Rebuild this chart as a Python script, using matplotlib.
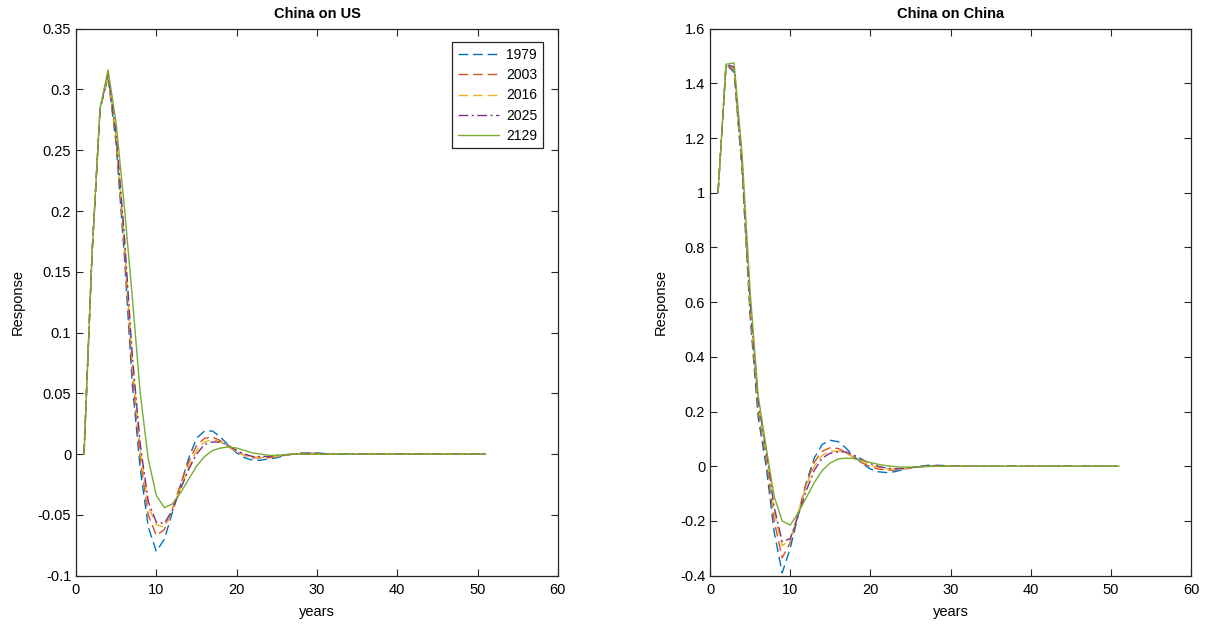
import matplotlib
matplotlib.use("Agg")
import matplotlib.pyplot as plt
import numpy as np

plt.rcParams["font.family"] = ["Liberation Sans", "DejaVu Sans"]

YEARS = np.arange(1, 52)
LABELS = ["1979", "2003", "2016", "2025", "2129"]
COLORS = ["#0072BD", "#D95319", "#EDB120", "#7E2F8E", "#77AC30"]
STYLES = [(0, (7, 3.5)), (0, (7, 3.5)), (0, (7, 3.5)), (0, (7, 2.5, 1.5, 2.5)), "-"]


def pad(vals):
    return np.array(vals + [0.0] * (51 - len(vals)))


# China on US
US_1979 = pad([0, 0.165, 0.284, 0.310, 0.255, 0.165, 0.058, -0.012, -0.060, -0.080,
               -0.070, -0.048, -0.026, -0.004, 0.013, 0.019, 0.019, 0.014, 0.007, 0.001,
               -0.003, -0.005, -0.005, -0.004, -0.003, -0.001, 0.0, 0.001, 0.001, 0.001,
               0.0005])
US_2003 = pad([0, 0.165, 0.284, 0.311, 0.258, 0.172, 0.068, -0.004, -0.050, -0.067,
               -0.062, -0.045, -0.025, -0.007, 0.007, 0.013, 0.014, 0.011, 0.006, 0.002,
               -0.001, -0.003, -0.003, -0.003, -0.002, -0.001, 0.0, 0.0005, 0.0008, 0.0006])
US_2016 = pad([0, 0.165, 0.284, 0.312, 0.261, 0.178, 0.076, 0.003, -0.043, -0.058,
               -0.060, -0.046, -0.028, -0.011, 0.003, 0.010, 0.012, 0.010, 0.006, 0.002,
               -0.001, -0.002, -0.003, -0.002, -0.002, -0.001, 0.0, 0.0005, 0.0005])
US_2025 = pad([0, 0.165, 0.284, 0.313, 0.263, 0.182, 0.082, 0.008, -0.039, -0.056,
               -0.057, -0.046, -0.029, -0.013, 0.000, 0.008, 0.010, 0.010, 0.007, 0.003,
               0.000, -0.002, -0.002, -0.002, -0.001, -0.0005])
US_2129 = pad([0, 0.165, 0.285, 0.316, 0.272, 0.205, 0.130, 0.050, -0.004, -0.034,
               -0.044, -0.041, -0.032, -0.021, -0.010, -0.002, 0.003, 0.005, 0.006, 0.005,
               0.003, 0.001, 0.0, -0.001, -0.001, -0.0005])

# China on China
CN_1979 = pad([1.0, 1.47, 1.44, 1.08, 0.55, 0.18, 0.00, -0.24, -0.39, -0.30,
               -0.18, -0.06, 0.03, 0.08, 0.095, 0.09, 0.065, 0.035, 0.010, -0.010,
               -0.020, -0.023, -0.020, -0.013, -0.006, 0.0, 0.003, 0.004, 0.003, 0.002,
               0.001])
CN_2003 = pad([1.0, 1.47, 1.45, 1.09, 0.57, 0.21, 0.03, -0.20, -0.335, -0.28,
               -0.17, -0.065, 0.015, 0.055, 0.068, 0.065, 0.050, 0.030, 0.012, -0.002,
               -0.010, -0.014, -0.014, -0.010, -0.006, -0.002, 0.001, 0.002, 0.002, 0.001])
CN_2016 = pad([1.0, 1.47, 1.455, 1.10, 0.59, 0.23, 0.05, -0.17, -0.29, -0.27,
               -0.17, -0.07, 0.0, 0.04, 0.055, 0.056, 0.047, 0.032, 0.017, 0.004,
               -0.005, -0.010, -0.011, -0.009, -0.006, -0.003, 0.0, 0.001, 0.001])
CN_2025 = pad([1.0, 1.47, 1.46, 1.11, 0.60, 0.24, 0.06, -0.15, -0.275, -0.265,
               -0.18, -0.09, -0.015, 0.03, 0.048, 0.053, 0.052, 0.040, 0.025, 0.010,
               0.0, -0.007, -0.009, -0.008, -0.005, -0.002, 0.0, 0.001])
CN_2129 = pad([1.0, 1.47, 1.475, 1.14, 0.64, 0.26, 0.07, -0.11, -0.20, -0.215,
               -0.17, -0.115, -0.06, -0.015, 0.012, 0.027, 0.030, 0.028, 0.022, 0.014,
               0.007, 0.002, -0.001, -0.003, -0.003, -0.002, -0.001])

US = [US_1979, US_2003, US_2016, US_2025, US_2129]
CN = [CN_1979, CN_2003, CN_2016, CN_2025, CN_2129]

fig = plt.figure(figsize=(12.1, 6.3), dpi=100)
fig.patch.set_facecolor("white")
ax1 = fig.add_axes([0.0628, 0.0862, 0.3983, 0.8683])
ax2 = fig.add_axes([0.5868, 0.0862, 0.3975, 0.8683])


def style(ax, title, ylim, yticks):
    ax.set_xlim(0, 60)
    ax.set_ylim(*ylim)
    ax.set_xticks(range(0, 61, 10))
    ax.set_yticks(yticks)
    ax.set_yticklabels([f"{t:g}" for t in yticks])
    ax.tick_params(direction="in", top=True, right=True, length=5, width=0.8,
                   labelsize=10.5, colors="#262626", labelcolor="black")
    ax.tick_params(axis="x", pad=5)
    for s in ax.spines.values():
        s.set_linewidth(0.9)
        s.set_color("#262626")
    ax.set_title(title, fontsize=10.5, fontweight="bold", pad=8)
    ax.set_xlabel("years", fontsize=10.5, labelpad=6)
    ax.set_ylabel("Response", fontsize=10.5, labelpad=9)


for ax, data in ((ax1, US), (ax2, CN)):
    for vals, lab, c, ls in zip(data, LABELS, COLORS, STYLES):
        ax.plot(YEARS, vals, color=c, linestyle=ls, linewidth=1.0, label=lab)

style(ax1, "China on US", (-0.1, 0.35), np.round(np.arange(-0.1, 0.351, 0.05), 2))
style(ax2, "China on China", (-0.4, 1.6), np.round(np.arange(-0.4, 1.61, 0.2), 1))

leg = ax1.legend(loc="upper right", bbox_to_anchor=(0.969, 0.975), borderaxespad=0,
                 fancybox=False, edgecolor="#262626", framealpha=1, fontsize=10,
                 handlelength=3.0, labelspacing=0.45, handletextpad=0.5,
                 borderpad=0.4)
leg.get_frame().set_linewidth(0.9)

fig.savefig("out.png", dpi=100)
